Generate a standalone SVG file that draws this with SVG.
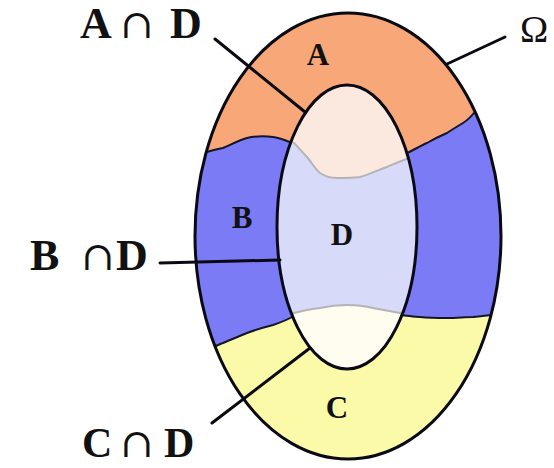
<svg xmlns="http://www.w3.org/2000/svg" width="554" height="468" viewBox="0 0 554 468">
<style>
.lbl{font-family:"Liberation Serif","Times New Roman",serif;font-weight:bold;fill:#111;}
.cap{font-family:"Liberation Serif","DejaVu Serif",serif;font-weight:normal;fill:#111;}
.cup{font-family:"DejaVu Serif",serif;font-weight:normal;fill:#111;text-anchor:middle;font-size:40px;}
.edge{stroke:#0a0a14;stroke-width:3;fill:none;stroke-linecap:round;}
.bound{stroke:#15152a;stroke-width:2;fill:none;}
.gray{stroke:#b4b4b4;stroke-width:2;fill:none;}
</style>
<defs>
<clipPath id="outerClip"><ellipse cx="348" cy="236" rx="153" ry="223"/></clipPath>
<clipPath id="innerClip"><ellipse cx="347" cy="227" rx="70" ry="142"/></clipPath>
</defs>
<rect width="554" height="468" fill="#ffffff"/>
<g id="omega">
<g clip-path="url(#outerClip)">
<rect x="190" y="10" width="320" height="455" fill="#fafaa8"/>
<path d="M150,0 L150,350 L218,345 C230,340 240,336 247,333 C258,329 265,327 273,325 C282,322 287,320 292,317 L402,315 C410,316 415,317 420,317 C430,318 440,318 447,318 C457,318 465,317 473,317 C480,316 486,316 492,315 L560,315 L560,0 Z" fill="#7b7bf5"/>
<path d="M150,0 L150,152 L207,152 C213,150 218,149 223,148 C232,144 240,140 247,138 C256,136 265,136 273,137 C280,138 285,140 290,142 L407,153 C414,150 420,146 427,143 C434,139 440,136 447,133 C453,129 458,126 463,123 C468,120 472,116 475,112 L560,100 L560,0 Z" fill="#f8a878"/>
<path class="bound" d="M200,153 L207,152 C213,150 218,149 223,148 C232,144 240,140 247,138 C256,136 265,136 273,137 C280,138 285,140 292,143"/>
<path class="bound" d="M405,154 C414,150 420,146 427,143 C434,139 440,136 447,133 C453,129 458,126 463,123 C468,120 472,116 478,108"/>
<path class="bound" d="M212,348 L218,345 C230,340 240,336 247,333 C258,329 265,327 273,325 C282,322 287,320 294,316"/>
<path class="bound" d="M400,315 C410,316 415,317 420,317 C430,318 440,318 447,318 C457,318 465,317 473,317 C480,316 486,316 496,314"/>
</g>
<ellipse class="edge" cx="348" cy="236" rx="153" ry="223"/>
</g>
<g id="D">
<ellipse cx="347" cy="227" rx="70" ry="142" fill="#d8dafa"/>
<g clip-path="url(#innerClip)">
<path d="M270,80 L270,143 L295,143 C300,149 303,153 307,157 C312,163 315,169 320,173 C326,177 331,178 337,178 C345,178 352,178 360,177 C370,174 378,170 387,167 C394,164 400,161 407,159 L430,155 L430,80 Z" fill="#fbe8df"/>
<path class="gray" d="M293,142 C300,149 303,153 307,157 C312,163 315,169 320,173 C326,177 331,178 337,178 C345,178 352,178 360,177 C370,174 378,170 387,167 C394,164 400,161 410,158"/>
<path d="M270,380 L270,313 L293,313 C302,311 311,309 320,308 C329,306 338,305 347,305 C356,305 365,306 373,308 C382,310 391,311 400,313 L430,313 L430,380 Z" fill="#fffdf0"/>
<path class="gray" d="M290,314 C302,311 311,309 320,308 C329,306 338,305 347,305 C356,305 365,306 373,308 C382,310 391,311 404,314"/>
</g>
<ellipse class="edge" cx="347" cy="227" rx="70" ry="142"/>
</g>
<g id="connectors">
<line class="edge" x1="215" y1="39" x2="305" y2="112"/>
<line class="edge" x1="447" y1="64" x2="505" y2="37"/>
<line class="edge" x1="160" y1="263" x2="280" y2="260"/>
<line class="edge" x1="212" y1="423" x2="310" y2="348"/>
</g>
<g id="labels">
<text class="lbl" x="318" y="65" font-size="31" text-anchor="middle">A</text>
<text class="lbl" x="242" y="228" font-size="31" text-anchor="middle">B</text>
<text class="lbl" x="342" y="245" font-size="31" text-anchor="middle">D</text>
<text class="lbl" x="337" y="418" font-size="31" text-anchor="middle">C</text>
</g>
<g id="label-AD">
<text class="lbl" x="80" y="38" font-size="44">A</text>
<text class="cup" x="137" y="38">∩</text>
<text class="lbl" x="170" y="38" font-size="44">D</text>
</g>
<g id="label-BD">
<text class="lbl" x="30" y="270" font-size="44">B</text>
<text class="cup" x="98" y="270">∩</text>
<text class="lbl" x="116" y="270" font-size="44">D</text>
</g>
<g id="label-CD">
<text class="lbl" x="82" y="457" font-size="42">C</text>
<text class="cup" x="137" y="457">∩</text>
<text class="lbl" x="164" y="457" font-size="42">D</text>
</g>
<g id="label-omega">
<text class="cap" x="520" y="42" font-size="38">Ω</text>
</g>
</svg>
